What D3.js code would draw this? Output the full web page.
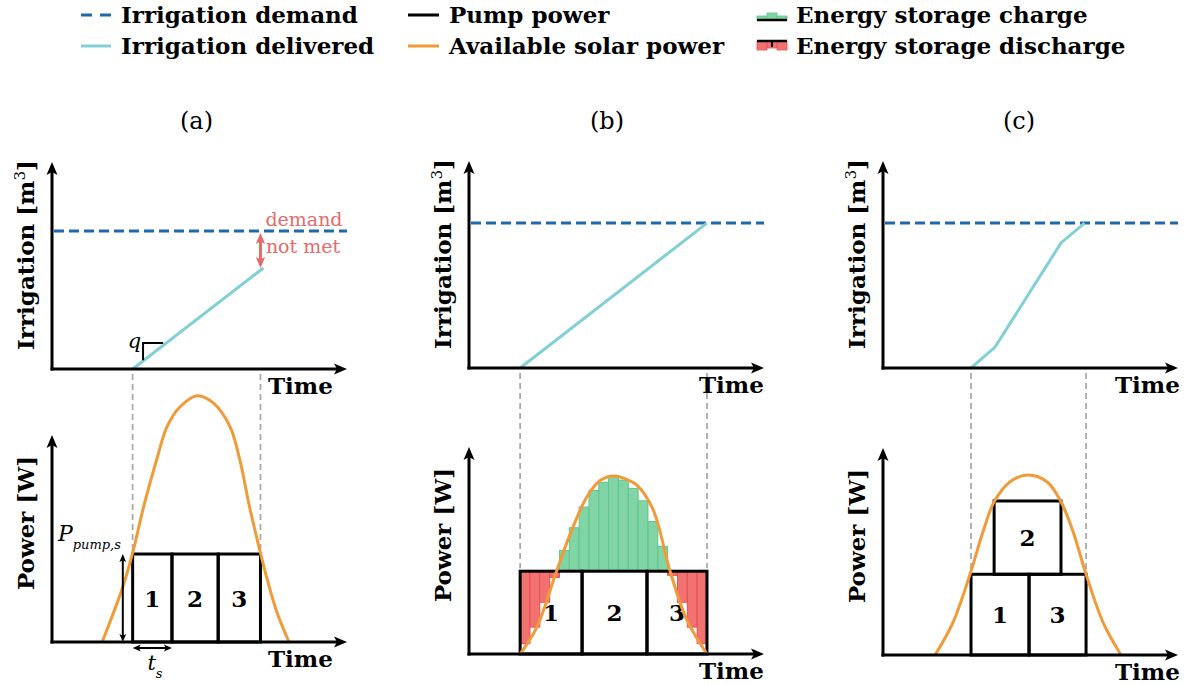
<!DOCTYPE html>
<html>
<head>
<meta charset="utf-8">
<script src="https://cdn.jsdelivr.net/npm/d3@7"></script>
<style>
	body { margin: 0; background: #fff; }
	svg text { font-family: "DejaVu Serif", serif; }
</style>
</head>
<body>
<svg id="chart" width="1189" height="685"></svg>
<script>
// schematic units: time 0..30 along each x-axis, value 0..100 along each y-axis
const timeDomain = [0, 30];
const valueDomain = [0, 100];

// panel (a)
const demandA = 66.7;
const deliveredA = [[8.2, 0], [21.5, 48.8]];
const solarA = [[5.1, 0], [7.2, 26.6], [8.2, 43], [9.3, 65], [10.7, 89], [11.7, 104], [13.0, 113.5], [14.75, 119],
	[16.4, 115.5], [18.1, 104], [19.1, 88], [20.1, 65], [21.2, 43], [21.9, 30], [22.9, 14], [24.1, 0]];
const slotStartA = [8.2, 12.2, 16.9];
const slotEndA = [12.2, 16.9, 21.2];
const slotBaseA = [0, 0, 0];
const slotTopA = [42.5, 42.5, 42.5];
const slotLabelA = ["1", "2", "3"];

// panel (b)
const demandB = 70;
const deliveredB = [[5.2, 0], [24.2, 70]];
const solarB = [[5.2, 0], [6.9, 13], [8.9, 40], [10.3, 58], [12.0, 76], [13.4, 84], [14.8, 86], [16.2, 84],
	[17.1, 81.5], [18.7, 70], [20.45, 40], [22.1, 17], [24.2, 0]];
const slotStartB = [5.2, 11.5, 18.1];
const slotEndB = [11.5, 18.1, 24.2];
const slotBaseB = [0, 0, 0];
const slotTopB = [40, 40, 40];
const slotLabelB = ["1", "2", "3"];
const stepLength = 1;
const stepStartB = [5.2, 6.2, 7.2, 8.2, 9.2, 10.2, 11.2, 12.2, 13.2, 14.2, 15.2, 16.2, 17.2, 18.2, 19.2, 20.2, 21.2, 22.2, 23.2];
const stepSolarB = [5, 13, 25, 37, 50, 61, 71, 79, 83, 86, 84, 80, 74, 64, 52, 38, 25, 13, 5];

// panel (c)
const demandC = 70;
const deliveredC = [[8.95, 0], [11.4, 10.1], [18.1, 60.4], [20.5, 70]];
const solarC = [[5.3, 0], [7.1, 15.5], [8.85, 39], [10.2, 60], [11.3, 74], [12.9, 83.6], [14.75, 87], [16.7, 83.6],
	[18.1, 74], [19.3, 60], [20.65, 39], [22.4, 15.5], [24.2, 0]];
const slotStartC = [8.95, 14.85, 11.3];
const slotEndC = [14.85, 20.65, 18.1];
const slotBaseC = [0, 0, 39];
const slotTopC = [39, 39, 74.4];
const slotLabelC = ["1", "3", "2"];

const legendLabels = ["Irrigation demand", "Irrigation delivered", "Pump power", "Available solar power",
	"Energy storage charge", "Energy storage discharge"];

const C_DEMAND = "#1f68aa", C_DELIV = "#82d0d5", C_SOLAR = "#f19a38";
const C_GREEN = "#80d4a6", C_GREEN_E = "#5fc68d", C_RED = "#f27171", C_RED_E = "#e85050";
const C_NOTE = "#e66a6a";
const AX_W = 295, AX_H = 207;

const svg = d3.select("#chart");

function head(g, x, y, angle, color, size) {
	var s = size || 1;
	g.append("path")
		.attr("d", "M0,0 L" + (-13 * s) + "," + (-5.5 * s) + " L" + (-10 * s) + ",0 L" + (-13 * s) + "," + (5.5 * s) + "Z")
		.attr("fill", color)
		.attr("transform", "translate(" + x + "," + y + ") rotate(" + angle + ")");
}

function doubleArrow(g, x1, y1, x2, y2, color, width, size) {
	var s = size || 0.62;
	var ang = Math.atan2(y2 - y1, x2 - x1) * 180 / Math.PI;
	var len = Math.hypot(x2 - x1, y2 - y1), ux = (x2 - x1) / len, uy = (y2 - y1) / len;
	g.append("line")
		.attr("x1", x1 + ux * 8 * s).attr("y1", y1 + uy * 8 * s)
		.attr("x2", x2 - ux * 8 * s).attr("y2", y2 - uy * 8 * s)
		.attr("stroke", color).attr("stroke-width", width);
	head(g, x2, y2, ang, color, s);
	head(g, x1, y1, ang + 180, color, s);
}

function axes(g, x0, y0) {
	g.append("line").attr("x1", x0 - 1.5).attr("y1", y0).attr("x2", x0 + AX_W - 8).attr("y2", y0)
		.attr("stroke", "#000").attr("stroke-width", 3);
	g.append("line").attr("x1", x0).attr("y1", y0 + 1.5).attr("x2", x0).attr("y2", y0 - AX_H + 8)
		.attr("stroke", "#000").attr("stroke-width", 3);
	head(g, x0 + AX_W, y0, 0, "#000");
	head(g, x0, y0 - AX_H, -90, "#000");
}

function yLabel(g, x, y, main, sup, tail) {
	var t = g.append("text")
		.attr("transform", "translate(" + x + "," + y + ") rotate(-90)")
		.attr("text-anchor", "middle")
		.attr("font-size", 23).attr("font-weight", "bold");
	t.append("tspan").text(main);
	if (sup) {
		t.append("tspan").attr("dy", -9).attr("font-size", 15).attr("font-weight", "normal").text(sup);
		t.append("tspan").attr("dy", 9).text(tail);
	}
}

function drawPanel(p) {
	var g = svg.append("g").attr("class", "panel-" + p.id);
	var x = d3.scaleLinear().domain(timeDomain).range([p.x0, p.x0 + AX_W]);
	var yT = d3.scaleLinear().domain(valueDomain).range([p.topY, p.topY - AX_H]);
	var yB = d3.scaleLinear().domain(valueDomain).range([p.botY, p.botY - AX_H]);

	g.append("text").attr("x", p.titleX).attr("y", 129).attr("text-anchor", "middle")
		.attr("font-size", 24).text(p.title);

	// pumping window guides
	var tStart = d3.min(p.slotStart), tEnd = d3.max(p.slotEnd);
	[tStart, tEnd].forEach(function(t) {
		g.append("line")
			.attr("x1", x(t)).attr("x2", x(t))
			.attr("y1", p.topY + 5).attr("y2", yB(p.slotTop[0]) - 3)
			.attr("stroke", "#aaa").attr("stroke-width", 1.8).attr("stroke-dasharray", "6,4");
	});

	// irrigation
	g.append("line")
		.attr("x1", x(0) + 2).attr("x2", x(timeDomain[1]))
		.attr("y1", yT(p.demand)).attr("y2", yT(p.demand))
		.attr("stroke", C_DEMAND).attr("stroke-width", 3).attr("stroke-dasharray", "10,5");
	g.append("path").datum(p.delivered)
		.attr("d", d3.line().x(function(d) { return x(d[0]); }).y(function(d) { return yT(d[1]); }))
		.attr("fill", "none").attr("stroke", C_DELIV).attr("stroke-width", 3);

	// storage bars
	if (p.stepStart) {
		var lvl = p.slotTop[0];
		p.stepStart.forEach(function(t0, i) {
			var v = p.stepSolar[i];
			var hi = Math.max(v, lvl), lo = Math.min(v, lvl);
			g.append("rect")
				.attr("x", x(t0)).attr("width", x(t0 + stepLength) - x(t0))
				.attr("y", yB(hi)).attr("height", yB(lo) - yB(hi))
				.attr("fill", v > lvl ? C_GREEN : C_RED)
				.attr("stroke", v > lvl ? C_GREEN_E : C_RED_E).attr("stroke-width", 1);
		});
	}

	// pump slots
	p.slotStart.forEach(function(t0, i) {
		var t1 = p.slotEnd[i];
		g.append("rect")
			.attr("x", x(t0)).attr("width", x(t1) - x(t0))
			.attr("y", yB(p.slotTop[i])).attr("height", yB(p.slotBase[i]) - yB(p.slotTop[i]))
			.attr("fill", "none").attr("stroke", "#000").attr("stroke-width", 3);
		g.append("text")
			.attr("x", (x(t0) + x(t1)) / 2)
			.attr("y", (yB(p.slotTop[i]) + yB(p.slotBase[i])) / 2 + 8.5)
			.attr("text-anchor", "middle").attr("font-size", 23).attr("font-weight", "bold")
			.text(p.slotLabel[i]);
	});

	// solar
	g.append("path").datum(p.solar)
		.attr("d", d3.line().curve(d3.curveCatmullRom.alpha(0.5))
			.x(function(d) { return x(d[0]); }).y(function(d) { return yB(d[1]); }))
		.attr("fill", "none").attr("stroke", C_SOLAR).attr("stroke-width", 3);

	axes(g, p.x0, p.topY);
	axes(g, p.x0, p.botY);

	[p.topY, p.botY].forEach(function(y0) {
		g.append("text").attr("x", p.x0 + p.timeDx).attr("y", y0 + 25)
			.attr("font-size", 23).attr("font-weight", "bold").text("Time");
	});
	yLabel(g, p.x0 - 18, p.topY - 114, "Irrigation [m", "3", "]");
	yLabel(g, p.x0 - 18, p.botY - 119, "Power [W]");

	if (p.notes) p.notes(g, x, yT, yB);
}

function notesA(g, x, yT, yB) {
	// slope marker q
	g.append("path")
		.attr("d", d3.line()([[x(9.26), yT(4.2)], [x(9.26), yT(12.6)], [x(11.3), yT(12.6)]]))
		.attr("fill", "none").attr("stroke", "#000").attr("stroke-width", 2);
	g.append("text").attr("x", x(7.7)).attr("y", yT(10.3)).attr("font-size", 21)
		.attr("font-style", "italic").text("q");

	// unmet demand
	doubleArrow(g, x(21.2), yT(demandA) + 2, x(21.2), yT(deliveredA[1][1]), C_NOTE, 3, 0.85);
	g.append("text").attr("x", x(21.7)).attr("y", yT(69.1)).attr("font-size", 19).attr("fill", C_NOTE).text("demand");
	g.append("text").attr("x", x(21.75)).attr("y", yT(55.8)).attr("font-size", 19).attr("fill", C_NOTE).text("not met");

	// pump power and slot length
	doubleArrow(g, x(7.2), yB(slotTopA[0]), x(7.2), yB(0), "#000", 2);
	var pt = g.append("text").attr("x", x(0.6)).attr("y", yB(48.8)).attr("font-style", "italic");
	pt.append("tspan").attr("font-size", 22).text("P");
	pt.append("tspan").attr("font-size", 13).attr("dy", 8).text("pump,s");

	doubleArrow(g, x(slotStartA[0]), yB(0) + 6, x(slotEndA[0]), yB(0) + 6, "#000", 2);
	var ts = g.append("text").attr("x", x(9.7)).attr("y", yB(0) + 28).attr("font-style", "italic");
	ts.append("tspan").attr("font-size", 21).text("t");
	ts.append("tspan").attr("font-size", 13).attr("dy", 8).text("s");
}

const panels = [
	{ id: "a", title: "(a)", titleX: 196.5, x0: 52, topY: 369, botY: 642, timeDx: 216,
		demand: demandA, delivered: deliveredA, solar: solarA,
		slotStart: slotStartA, slotEnd: slotEndA, slotBase: slotBaseA, slotTop: slotTopA, slotLabel: slotLabelA,
		notes: notesA },
	{ id: "b", title: "(b)", titleX: 607, x0: 469, topY: 368, botY: 654, timeDx: 230,
		demand: demandB, delivered: deliveredB, solar: solarB,
		slotStart: slotStartB, slotEnd: slotEndB, slotBase: slotBaseB, slotTop: slotTopB, slotLabel: slotLabelB,
		stepStart: stepStartB, stepSolar: stepSolarB },
	{ id: "c", title: "(c)", titleX: 1019, x0: 883, topY: 368, botY: 655, timeDx: 232,
		demand: demandC, delivered: deliveredC, solar: solarC,
		slotStart: slotStartC, slotEnd: slotEndC, slotBase: slotBaseC, slotTop: slotTopC, slotLabel: slotLabelC }
];

panels.forEach(drawPanel);

// legend
var lg = svg.append("g").attr("class", "legend");
var rowsY = [15, 46];
var iconX = [81, 408, 757], textX = [121, 449, 796];
legendLabels.forEach(function(label, i) {
	var col = Math.floor(i / 2), cy = rowsY[i % 2];
	lg.append("text").attr("x", textX[col]).attr("y", cy + 8)
		.attr("font-size", 23).attr("font-weight", "bold").text(label);
});
lg.append("line").attr("x1", iconX[0]).attr("x2", iconX[0] + 30).attr("y1", rowsY[0]).attr("y2", rowsY[0])
	.attr("stroke", C_DEMAND).attr("stroke-width", 3).attr("stroke-dasharray", "11,8");
lg.append("line").attr("x1", iconX[0]).attr("x2", iconX[0] + 30).attr("y1", rowsY[1]).attr("y2", rowsY[1])
	.attr("stroke", C_DELIV).attr("stroke-width", 3);
lg.append("line").attr("x1", iconX[1]).attr("x2", iconX[1] + 31).attr("y1", rowsY[0]).attr("y2", rowsY[0])
	.attr("stroke", "#000").attr("stroke-width", 3);
lg.append("line").attr("x1", iconX[1]).attr("x2", iconX[1] + 31).attr("y1", rowsY[1]).attr("y2", rowsY[1])
	.attr("stroke", C_SOLAR).attr("stroke-width", 3);
// charge icon
var cx = iconX[2], cy = rowsY[0];
[[0, 1], [10, -2], [20, 1]].forEach(function(b) {
	lg.append("rect").attr("x", cx + b[0]).attr("y", cy + b[1]).attr("width", 10).attr("height", 5 - b[1])
		.attr("fill", C_GREEN).attr("stroke", C_GREEN_E).attr("stroke-width", 0.8);
});
lg.append("line").attr("x1", cx).attr("x2", cx + 30).attr("y1", cy + 5).attr("y2", cy + 5)
	.attr("stroke", "#000").attr("stroke-width", 2.5);
// discharge icon
cy = rowsY[1];
[[0, 2], [10, 0], [20, 2]].forEach(function(b) {
	lg.append("rect").attr("x", cx + b[0]).attr("y", cy - 5).attr("width", 10).attr("height", 7 + b[1])
		.attr("fill", C_RED).attr("stroke", C_RED_E).attr("stroke-width", 0.8);
});
lg.append("line").attr("x1", cx).attr("x2", cx + 30).attr("y1", cy - 5).attr("y2", cy - 5)
	.attr("stroke", "#000").attr("stroke-width", 2.5);
lg.append("line").attr("x1", cx + 15).attr("x2", cx + 15).attr("y1", cy - 5).attr("y2", cy + 1)
	.attr("stroke", "#000").attr("stroke-width", 2);
</script>
</body>
</html>
